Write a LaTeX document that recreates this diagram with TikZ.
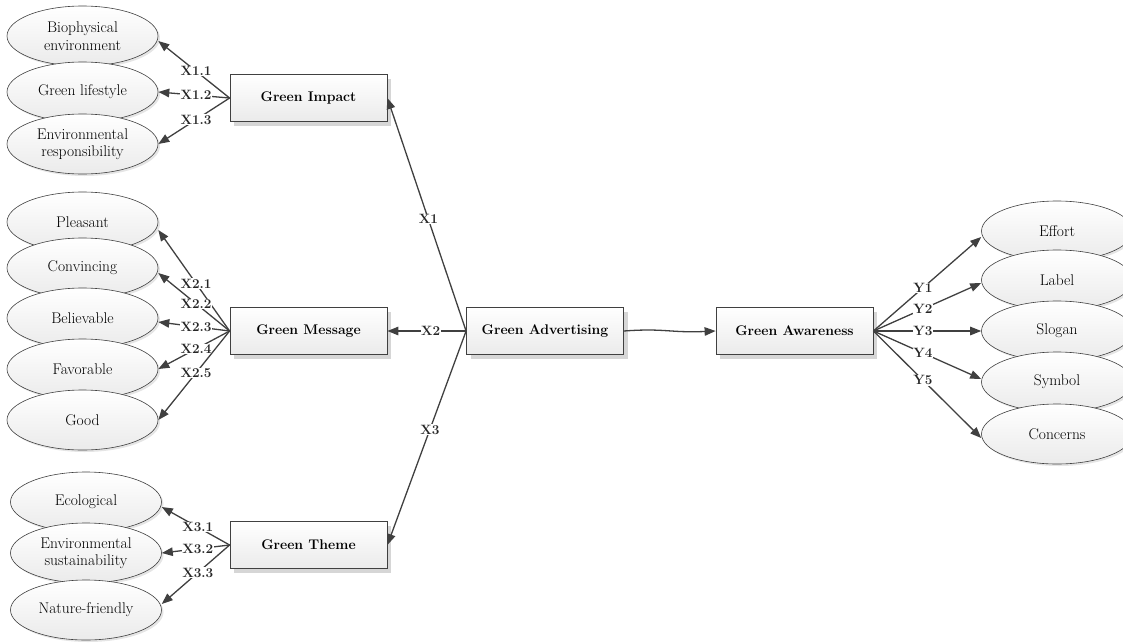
\documentclass[tikz,border=0pt]{standalone}
\usetikzlibrary{arrows.meta,shapes.geometric,shadows}
\definecolor{ln}{HTML}{404040}
\tikzset{
  box/.style={draw=ln, line width=0.8pt, rectangle, minimum width=157pt, minimum height=47pt,
    top color=white, bottom color=black!8, inner sep=0pt,
    drop shadow={shadow xshift=4pt, shadow yshift=-4pt, fill=black!16, opacity=1},
    font=\fontsize{14}{16}\selectfont\bfseries},
  ell/.style={draw=ln, line width=0.6pt, ellipse, minimum width=151pt, minimum height=60pt,
    inner sep=0pt, top color=white, bottom color=black!8, align=center,
    drop shadow={shadow xshift=2pt, shadow yshift=-2pt, fill=black!10, opacity=1},
    font=\fontsize{15.5}{17.5}\selectfont},
  arr/.style={draw=ln, line width=1.3pt, -{Triangle[length=11pt,width=8.5pt]}},
  lab/.style={fill=white, inner sep=0.6pt, font=\fontsize{13.5}{15}\selectfont\bfseries, text=black!85}
}
\begin{document}
\begin{tikzpicture}[x=1pt,y=-1pt]
\useasboundingbox (0,0) rectangle (1123,643);
\clip (0,0) rectangle (1123,643);

% boxes
\node[box] (impact)  at (308.5,98)  {Green Impact};
\node[box] (message) at (308.5,331) {Green Message};
\node[box] (theme)   at (308.5,545) {Green Theme};
\node[box] (adv)     at (545,331)   {Green Advertising};
\node[box] (aware)   at (794.5,331) {Green Awareness};

% impact group
\node[ell] (bio)  at (82.5,36)  {Biophysical\\environment};
\node[ell] (life) at (82.5,92)  {Green lifestyle};
\node[ell] (resp) at (82.5,144) {Environmental\\responsibility};

% message group
\node[ell] (pleas) at (82.5,222) {Pleasant};
\node[ell] (conv)  at (82.5,268) {Convincing};
\node[ell] (beli)  at (82.5,318) {Believable};
\node[ell] (favo)  at (82.5,369) {Favorable};
\node[ell] (good)  at (82.5,420) {Good};

% theme group
\node[ell] (eco)  at (86,502) {Ecological};
\node[ell] (sust) at (86,553) {Environmental\\sustainability};
\node[ell] (natu) at (86,610) {Nature-friendly};

% awareness group
\node[ell] (eff) at (1057,231) {Effort};
\node[ell] (lab) at (1057,280) {Label};
\node[ell] (slo) at (1057,331) {Slogan};
\node[ell] (sym) at (1057,382) {Symbol};
\node[ell] (con) at (1057,434) {Concerns};

% main paths
\draw[arr] (adv.west) -- node[lab,pos=0.48] {X1} (impact.east);
\draw[arr] (adv.west) -- node[lab,pos=0.45] {X2} (message.east);
\draw[arr] (adv.west) -- node[lab,pos=0.46] {X3} (theme.east);
\draw[arr] (adv.east) .. controls (665,328) and (670,333) .. (aware.west);

% impact loadings
\draw[arr] (impact.west) -- node[lab,pos=0.47] {X1.1} ([yshift=-5pt]bio.east);
\draw[arr] (impact.west) -- node[lab,pos=0.47] {X1.2} (life.east);
\draw[arr] (impact.west) -- node[lab,pos=0.47] {X1.3} (resp.east);

% message loadings
\draw[arr] (message.west) -- node[lab,pos=0.47] {X2.1} ([yshift=-8pt]pleas.east);
\draw[arr] (message.west) -- node[lab,pos=0.47] {X2.2} ([yshift=-5pt]conv.east);
\draw[arr] (message.west) -- node[lab,pos=0.47] {X2.3} ([yshift=-4pt]beli.east);
\draw[arr] (message.west) -- node[lab,pos=0.47] {X2.4} (favo.east);
\draw[arr] (message.west) -- node[lab,pos=0.47] {X2.5} (good.east);

% theme loadings
\draw[arr] (theme.west) -- node[lab,pos=0.47] {X3.1} ([yshift=-5pt]eco.east);
\draw[arr] (theme.west) -- node[lab,pos=0.47] {X3.2} (sust.east);
\draw[arr] (theme.west) -- node[lab,pos=0.47] {X3.3} ([yshift=6pt]natu.east);

% awareness loadings
\draw[arr] (aware.east) -- node[lab,pos=0.46] {Y1} ([yshift=-6pt]eff.west);
\draw[arr] (aware.east) -- node[lab,pos=0.46] {Y2} ([yshift=-3pt]lab.west);
\draw[arr] (aware.east) -- node[lab,pos=0.46] {Y3} (slo.west);
\draw[arr] (aware.east) -- node[lab,pos=0.46] {Y4} ([yshift=3pt]sym.west);
\draw[arr] (aware.east) -- node[lab,pos=0.46] {Y5} ([yshift=-4pt]con.west);
\end{tikzpicture}
\end{document}
